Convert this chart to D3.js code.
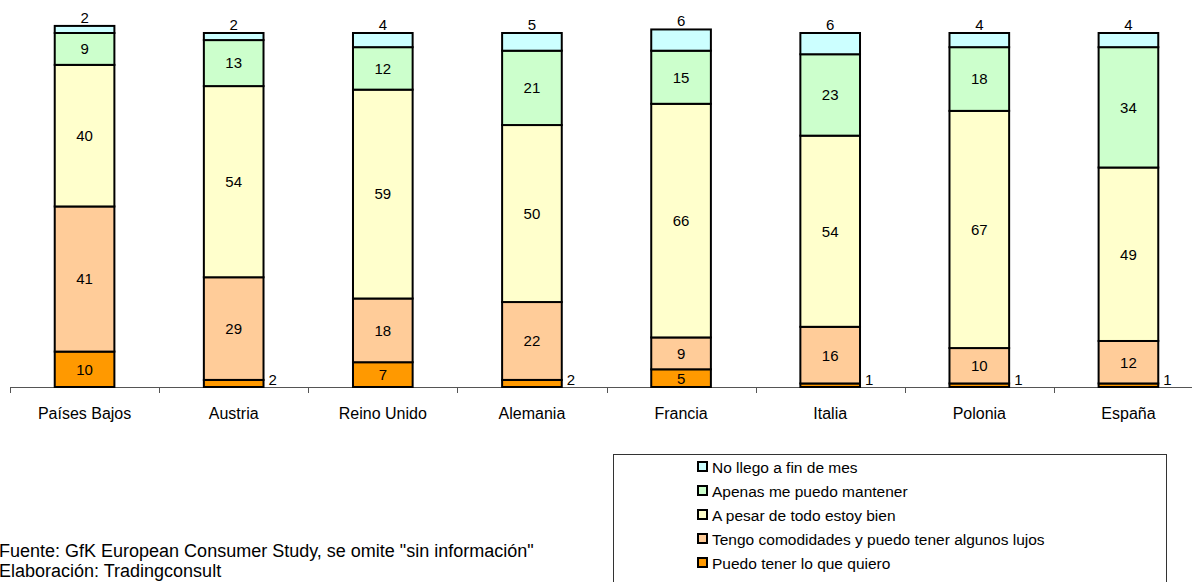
<!DOCTYPE html>
<html>
<head>
<meta charset="utf-8">
<script src="https://cdn.jsdelivr.net/npm/d3@7/dist/d3.min.js"></script>
<style>
  html, body { margin: 0; padding: 0; background: #fff; }
  svg { display: block; font-family: "Liberation Sans", Arial, sans-serif; }
</style>
</head>
<body>
<svg id="chart" width="1192" height="582"></svg>
<script>
// Countries along the x axis
const countries = ["Países Bajos", "Austria", "Reino Unido", "Alemania", "Francia", "Italia", "Polonia", "España"];

// Series names, stacked bottom to top
const seriesNames = [
  "Puedo tener lo que quiero",
  "Tengo comodidades y puedo tener algunos lujos",
  "A pesar de todo estoy bien",
  "Apenas me puedo mantener",
  "No llego a fin de mes"
];

// Values per series (%), one per country
const puedo    = [10, 2, 7, 2, 5, 1, 1, 1];
const tengo    = [41, 29, 18, 22, 9, 16, 10, 12];
const aPesar   = [40, 54, 59, 50, 66, 54, 67, 49];
const apenas   = [9, 13, 12, 21, 15, 23, 18, 34];
const noLlego  = [2, 2, 4, 5, 6, 6, 4, 4];

const seriesColors = ["#FF9900", "#FFCC99", "#FFFFCC", "#CCFFCC", "#CCFFFF"];

const footnotes = [
  "Fuente: GfK European Consumer Study, se omite \"sin información\"",
  "Elaboración: Tradingconsult"
];

const seriesValues = [puedo, tengo, aPesar, apenas, noLlego];
const rows = countries.map((c, i) => {
  const r = { country: c };
  seriesNames.forEach((s, k) => { r[s] = seriesValues[k][i]; });
  return r;
});

const svg = d3.select("#chart");
const baseY = 387;

const x = d3.scaleBand()
  .domain(countries)
  .range([10, 1203])
  .paddingInner(0.6)
  .paddingOuter(0.3);

const y = d3.scaleLinear().domain([0, 100]).range([baseY, 33]);

const stack = d3.stack().keys(seriesNames);
const layers = stack(rows);

// Axis line with category boundary ticks
const step = x.step();
const bounds = countries.map(c => x(c) - step * x.paddingInner() / 2);
svg.append("line")
  .attr("x1", 10).attr("x2", 1192)
  .attr("y1", baseY + 0.5).attr("y2", baseY + 0.5)
  .attr("stroke", "#555").attr("stroke-width", 1);
svg.append("g").selectAll("line").data(bounds).join("line")
  .attr("x1", d => Math.round(d) + 0.5).attr("x2", d => Math.round(d) + 0.5)
  .attr("y1", baseY).attr("y2", baseY + 6)
  .attr("stroke", "#555").attr("stroke-width", 1);

// Category labels
const xAxis = d3.axisBottom(x).tickSize(0).tickPadding(0);
const gx = svg.append("g").attr("transform", `translate(0,${baseY + 32})`).call(xAxis);
gx.select(".domain").remove();
gx.selectAll("text")
  .attr("font-size", 16).attr("fill", "#000")
  .attr("font-family", "'Liberation Sans', Arial, sans-serif")
  .attr("dy", null);

// Stacked bars
const gBars = svg.append("g");
layers.forEach((layer, k) => {
  gBars.append("g").selectAll("rect").data(layer).join("rect")
    .attr("x", d => x(d.data.country))
    .attr("width", x.bandwidth())
    .attr("y", d => y(d[1]))
    .attr("height", d => y(d[0]) - y(d[1]))
    .attr("fill", seriesColors[k])
    .attr("stroke", "#000")
    .attr("stroke-width", 2);
});

// Value labels
const gLab = svg.append("g").attr("font-size", 15).attr("fill", "#000");
layers.forEach((layer, k) => {
  layer.forEach(d => {
    const v = d[1] - d[0];
    const cx = x(d.data.country) + x.bandwidth() / 2;
    if (k === layers.length - 1) {
      // top series: label above the bar
      gLab.append("text").attr("x", cx).attr("y", y(d[1]) - 3)
        .attr("text-anchor", "middle").text(v);
    } else if (k === 0 && v <= 2) {
      // thin bottom segment: label beside the bar
      gLab.append("text").attr("x", x(d.data.country) + x.bandwidth() + 5)
        .attr("y", baseY - 2).attr("text-anchor", "start").text(v);
    } else {
      gLab.append("text").attr("x", cx).attr("y", (y(d[0]) + y(d[1])) / 2)
        .attr("dy", "0.36em").attr("text-anchor", "middle").text(v);
    }
  });
});

// Legend
const legend = svg.append("g");
legend.append("rect")
  .attr("x", 613.5).attr("y", 454.5).attr("width", 553).attr("height", 140)
  .attr("fill", "#fff").attr("stroke", "#333").attr("stroke-width", 1);
const legendOrder = seriesNames.slice().reverse();
const legendColors = seriesColors.slice().reverse();
legendOrder.forEach((name, i) => {
  const cy = 467 + i * 24;
  legend.append("rect")
    .attr("x", 698).attr("y", cy - 5).attr("width", 9).attr("height", 9)
    .attr("fill", legendColors[i]).attr("stroke", "#000").attr("stroke-width", 2);
  legend.append("text")
    .attr("x", 712).attr("y", cy).attr("dy", "0.36em")
    .attr("font-size", 15.5).attr("fill", "#000").text(name);
});

// Source notes
svg.append("g").selectAll("text").data(footnotes).join("text")
  .attr("x", -1).attr("y", (d, i) => 557 + i * 20)
  .attr("font-size", 18).attr("fill", "#000").text(d => d);
</script>
</body>
</html>
